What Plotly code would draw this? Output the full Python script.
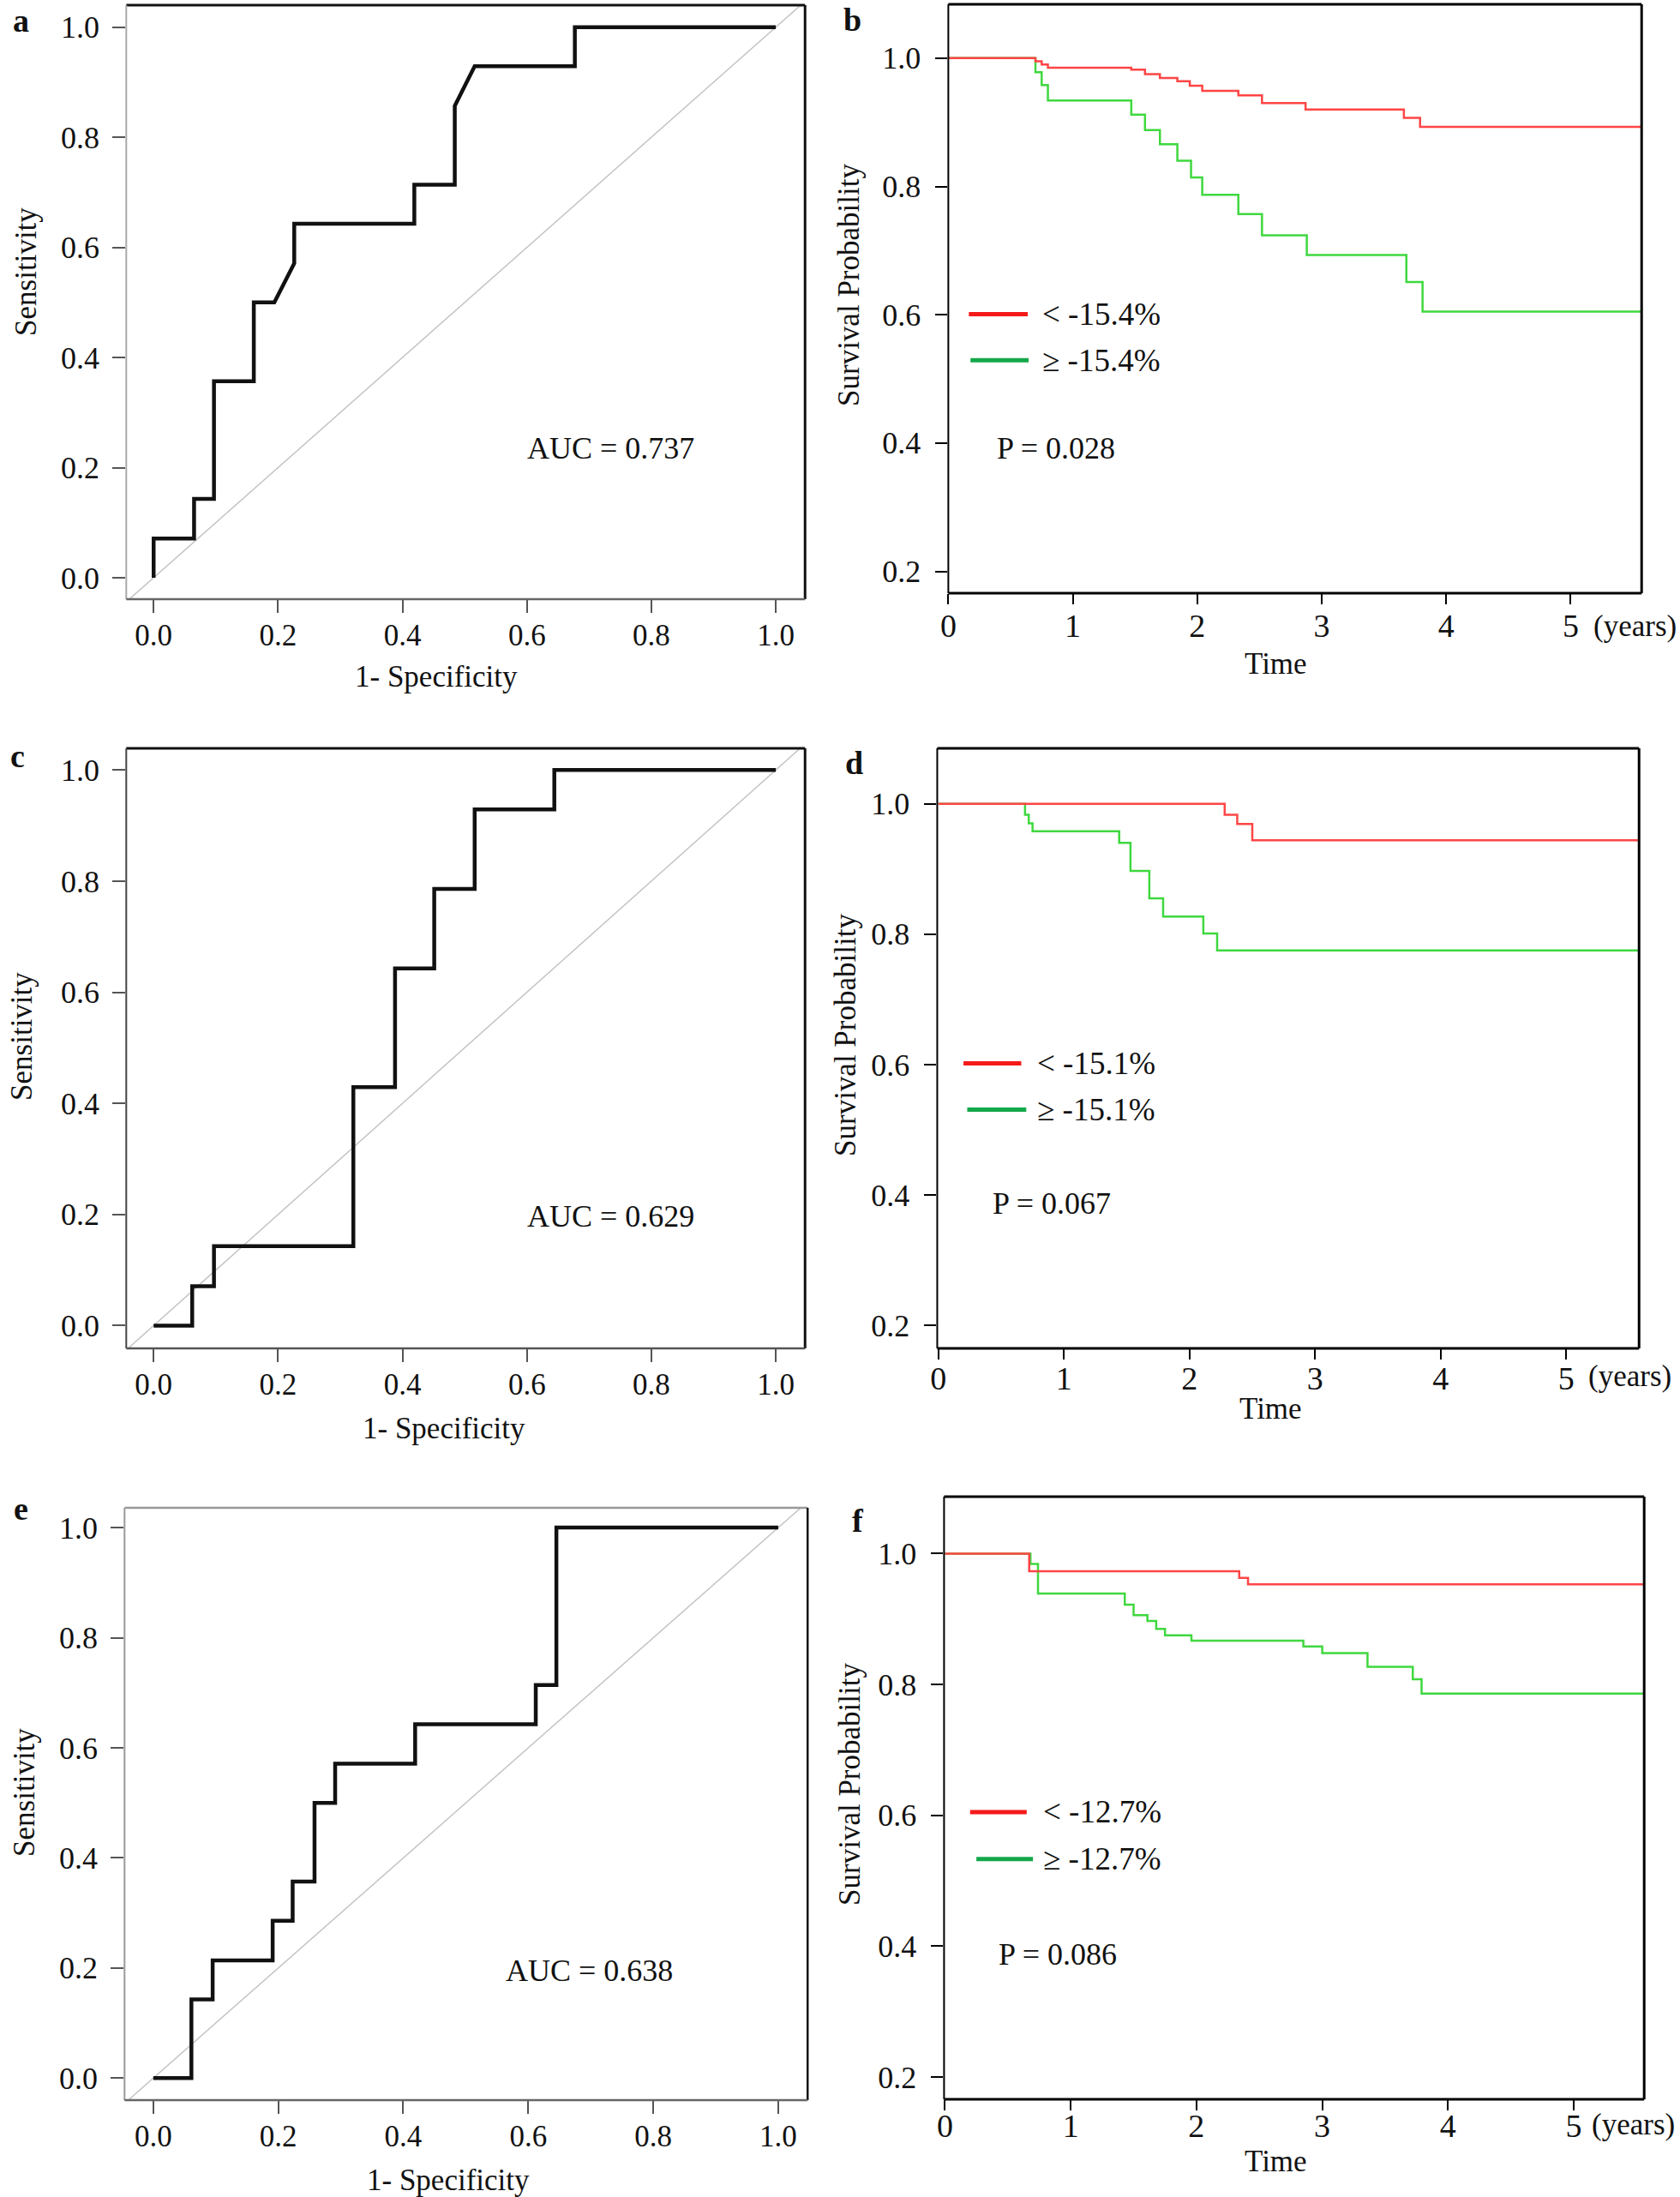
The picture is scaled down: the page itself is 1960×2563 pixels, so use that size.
import plotly.graph_objects as go

W, H = 1960, 2563
FONT = "Liberation Serif, Times New Roman, serif"

# ---------------- ROC data (1 - specificity, sensitivity) ----------------
roc_a_fpr = [0, 0, 0.065, 0.065, 0.097, 0.097, 0.161, 0.161, 0.194, 0.226, 0.226,
             0.419, 0.419, 0.484, 0.484, 0.516, 0.677, 0.677, 1.0]
roc_a_tpr = [0, 0.071, 0.071, 0.143, 0.143, 0.357, 0.357, 0.5, 0.5, 0.571, 0.643,
             0.643, 0.714, 0.714, 0.857, 0.929, 0.929, 1.0, 1.0]
roc_c_fpr = [0, 0.062, 0.062, 0.097, 0.097, 0.321, 0.321, 0.388, 0.388, 0.451, 0.451,
             0.516, 0.516, 0.644, 0.644, 1.0]
roc_c_tpr = [0, 0, 0.071, 0.071, 0.143, 0.143, 0.429, 0.429, 0.643, 0.643, 0.786,
             0.786, 0.929, 0.929, 1.0, 1.0]
roc_e_fpr = [0, 0.061, 0.061, 0.095, 0.095, 0.191, 0.191, 0.223, 0.223, 0.258, 0.258,
             0.291, 0.291, 0.419, 0.419, 0.612, 0.612, 0.645, 0.645, 1.0]
roc_e_tpr = [0, 0, 0.143, 0.143, 0.214, 0.214, 0.286, 0.286, 0.357, 0.357, 0.5,
             0.5, 0.571, 0.571, 0.643, 0.643, 0.714, 0.714, 1.0, 1.0]
auc_labels = ["AUC = 0.737", "AUC = 0.629", "AUC = 0.638"]

# ---------------- Kaplan-Meier data (time in years, survival) ----------------
b_red_t = [0, 0.70, 0.75, 0.80, 1.47, 1.58, 1.70, 1.84, 1.94, 2.04, 2.33, 2.52, 2.87, 3.66, 3.79, 5.57]
b_red_s = [1.0, 0.995, 0.990, 0.985, 0.982, 0.975, 0.969, 0.964, 0.957, 0.949, 0.942, 0.930, 0.920, 0.907, 0.893, 0.893]
b_grn_t = [0, 0.70, 0.75, 0.80, 1.47, 1.58, 1.70, 1.84, 1.95, 2.04, 2.33, 2.52, 2.88, 3.68, 3.81, 5.57]
b_grn_s = [1.0, 0.978, 0.958, 0.934, 0.912, 0.888, 0.866, 0.840, 0.814, 0.787, 0.757, 0.724, 0.693, 0.651, 0.605, 0.605]

d_red_t = [0, 2.28, 2.38, 2.50, 5.58]
d_red_s = [1.0, 0.983, 0.969, 0.944, 0.944]
d_grn_t = [0, 0.69, 0.72, 0.75, 1.44, 1.53, 1.68, 1.79, 2.11, 2.22, 5.58]
d_grn_s = [1.0, 0.983, 0.970, 0.958, 0.940, 0.897, 0.855, 0.827, 0.801, 0.775, 0.775]

f_red_t = [0, 0.67, 2.34, 2.41, 5.56]
f_red_s = [1.0, 0.973, 0.963, 0.953, 0.953]
f_grn_t = [0, 0.68, 0.74, 1.43, 1.50, 1.61, 1.68, 1.75, 1.96, 2.85, 3.00, 3.36, 3.72, 3.79, 5.56]
f_grn_s = [1.0, 0.984, 0.939, 0.922, 0.906, 0.897, 0.885, 0.875, 0.867, 0.858, 0.848, 0.827, 0.808, 0.786, 0.786]

cutoffs = ["15.4", "15.1", "12.7"]
p_values = ["P = 0.028", "P = 0.067", "P = 0.086"]

roc_ticks = [0.0, 0.2, 0.4, 0.6, 0.8, 1.0]
km_xticks = [0, 1, 2, 3, 4, 5]
km_yticks = [0.2, 0.4, 0.6, 0.8, 1.0]

# ---------------- layout geometry (pixels) ----------------
panels = {
    "a": dict(n=1, px=(138, 934), py=(6, 699), xr=[-0.044, 1.047], yr=[-0.039, 1.040], kind="roc", xso=-4),
    "b": dict(n=2, px=(1102, 1915), py=(5, 692), xr=[0, 5.57], yr=[0.166, 1.084], kind="km", xso=-8),
    "c": dict(n=3, px=(138, 934), py=(873, 1573), xr=[-0.044, 1.047], yr=[-0.041, 1.039], kind="roc", xso=-4),
    "d": dict(n=4, px=(1089, 1912), py=(873, 1573), xr=[-0.009, 5.58], yr=[0.165, 1.085], kind="km", xso=-11),
    "e": dict(n=5, px=(136, 937), py=(1759, 2450), xr=[-0.046, 1.047], yr=[-0.040, 1.036], kind="roc", xso=-4),
    "f": dict(n=6, px=(1097, 1918), py=(1746, 2449), xr=[-0.007, 5.56], yr=[0.166, 1.087], kind="km", xso=-15),
}

frame_styles = {
    "a": dict(top=("#111", 3), right=("#111", 3), left=("#aaaaaa", 2), bottom=("#666666", 2.5)),
    "c": dict(top=("#111", 3), right=("#111", 3), left=("#444444", 2), bottom=("#555555", 2.5)),
    "e": dict(top=("#999999", 2.5), right=("#111", 2.5), left=("#999999", 2), bottom=("#666666", 2.5)),
    "b": dict(top=("#000", 3), right=("#000", 3), left=("#000", 2), bottom=("#000", 3)),
    "d": dict(top=("#000", 3), right=("#000", 3), left=("#000", 2), bottom=("#000", 3)),
    "f": dict(top=("#000", 3), right=("#000", 3), left=("#000", 2), bottom=("#000", 3)),
}

fig = go.Figure()
shapes = []
annotations = []


def ax_ids(n):
    return ("x" if n == 1 else f"x{n}"), ("y" if n == 1 else f"y{n}")


def px2paper_x(v):
    return v / W


def px2paper_y(v):
    return 1 - v / H


layout_axes = {}
for key, p in panels.items():
    n = p["n"]
    xa, ya = ax_ids(n)
    xname = "xaxis" if n == 1 else f"xaxis{n}"
    yname = "yaxis" if n == 1 else f"yaxis{n}"
    roc = p["kind"] == "roc"
    tcol = "#555555" if roc else "#000000"
    common = dict(showgrid=False, zeroline=False, showline=False, ticks="outside",
                  tickwidth=2, tickcolor=tcol)
    layout_axes[xname] = dict(
        domain=[px2paper_x(p["px"][0]), px2paper_x(p["px"][1])],
        anchor=ya, range=p["xr"],
        tickvals=roc_ticks if roc else km_xticks,
        ticktext=[f"{v:.1f}" for v in roc_ticks] if roc else [str(v) for v in km_xticks],
        tickfont=dict(family=FONT, size=35 if roc else 38, color="#111"),
        ticklen=15 if roc else 12, ticklabelstandoff=p["xso"], **common)
    layout_axes[yname] = dict(
        domain=[px2paper_y(p["py"][1]), px2paper_y(p["py"][0])],
        anchor=xa, range=p["yr"],
        tickvals=roc_ticks if roc else km_yticks,
        ticktext=[f"{v:.1f}" for v in (roc_ticks if roc else km_yticks)],
        tickfont=dict(family=FONT, size=36, color="#111"),
        ticklen=15 if roc else 14, ticklabelstandoff=8 if roc else 10, **common)

    # frame
    fs = frame_styles[key]
    xd, yd = f"{xa} domain", f"{ya} domain"
    for side, (c, w) in fs.items():
        if side == "top":
            coords = (0, 1, 1, 1)
        elif side == "bottom":
            coords = (0, 0, 1, 0)
        elif side == "left":
            coords = (0, 0, 0, 1)
        else:
            coords = (1, 0, 1, 1)
        shapes.append(dict(type="line", xref=xd, yref=yd, x0=coords[0], y0=coords[1],
                           x1=coords[2], y1=coords[3], line=dict(color=c, width=w)))

# ---------------- ROC panels ----------------
roc_sets = [("a", roc_a_fpr, roc_a_tpr, (0.734, 0.235)),
            ("c", roc_c_fpr, roc_c_tpr, (0.735, 0.197)),
            ("e", roc_e_fpr, roc_e_tpr, (0.697, 0.195))]
for i, (key, fpr, tpr, pos) in enumerate(roc_sets):
    p = panels[key]
    xa, ya = ax_ids(p["n"])
    fig.add_trace(go.Scatter(x=p["xr"], y=p["xr"], mode="lines", xaxis=xa, yaxis=ya,
                             line=dict(color="#c4c4c4", width=1.5), showlegend=False,
                             hoverinfo="skip"))
    fig.add_trace(go.Scatter(x=fpr, y=tpr, mode="lines", xaxis=xa, yaxis=ya,
                             line=dict(color="#111111", width=4.5), showlegend=False))
    annotations.append(dict(text=auc_labels[i], x=pos[0], y=pos[1], xref=xa, yref=ya,
                            showarrow=False, xanchor="center", yanchor="middle",
                            font=dict(family=FONT, size=36, color="#111")))

# ---------------- KM panels ----------------
RED = "#ff4545"
GRN = "#3fd83f"
km_sets = [("b", b_red_t, b_red_s, b_grn_t, b_grn_s, 0.868, 0.392,
            (0.165, 0.638, 0.601), (0.178, 0.645, 0.529), 0.74),
           ("d", d_red_t, d_red_s, d_grn_t, d_grn_s, 0.90, 0.387,
            (0.20, 0.66, 0.602), (0.23, 0.70, 0.531), 0.775),
           ("f", f_red_t, f_red_s, f_grn_t, f_grn_s, 0.90, 0.388,
            (0.20, 0.65, 0.605), (0.25, 0.70, 0.533), 0.77)]
for i, (key, rt, rs, gt, gs, px_, py_, leg_r, leg_g, tx) in enumerate(km_sets):
    p = panels[key]
    xa, ya = ax_ids(p["n"])
    fig.add_trace(go.Scatter(x=gt, y=gs, mode="lines", line_shape="hv", xaxis=xa, yaxis=ya,
                             line=dict(color=GRN, width=2.5), showlegend=False))
    fig.add_trace(go.Scatter(x=rt, y=rs, mode="lines", line_shape="hv", xaxis=xa, yaxis=ya,
                             line=dict(color=RED, width=2.5), showlegend=False))
    # legend keys
    shapes.append(dict(type="line", xref=xa, yref=ya, x0=leg_r[0], x1=leg_r[1], y0=leg_r[2],
                       y1=leg_r[2], line=dict(color="#f51a1a", width=5)))
    shapes.append(dict(type="line", xref=xa, yref=ya, x0=leg_g[0], x1=leg_g[1], y0=leg_g[2],
                       y1=leg_g[2], line=dict(color="#13a84a", width=5)))
    annotations.append(dict(text=f"< -{cutoffs[i]}%", x=tx, y=leg_r[2], xref=xa, yref=ya,
                            showarrow=False, xanchor="left", yanchor="middle",
                            font=dict(family=FONT, size=37, color="#111")))
    annotations.append(dict(text=f"\u2265 -{cutoffs[i]}%", x=tx, y=leg_g[2], xref=xa, yref=ya,
                            showarrow=False, xanchor="left", yanchor="middle",
                            font=dict(family=FONT, size=37, color="#111")))
    annotations.append(dict(text=p_values[i], x=px_, y=py_, xref=xa, yref=ya,
                            showarrow=False, xanchor="center", yanchor="middle",
                            font=dict(family=FONT, size=36, color="#111")))

# ---------------- titles / labels (pixel positions) ----------------
def add_text(text, x, y, size=35, angle=0, bold=False, xanchor="center", yanchor="middle"):
    annotations.append(dict(text=f"<b>{text}</b>" if bold else text,
                            x=px2paper_x(x), y=px2paper_y(y), xref="paper", yref="paper",
                            showarrow=False, xanchor=xanchor, yanchor=yanchor,
                            textangle=angle,
                            font=dict(family=FONT, size=size, color="#111")))


# y titles
add_text("Sensitivity", 21, 317, angle=-90)
add_text("Sensitivity", 16, 1209, angle=-90)
add_text("Sensitivity", 18, 2091, angle=-90)
add_text("Survival Probability", 985, 332, angle=-90)
add_text("Survival Probability", 981, 1207, angle=-90)
add_text("Survival Probability", 986, 2081, angle=-90)
# x titles
add_text("1- Specificity", 502, 790)
add_text("1- Specificity", 511, 1666)
add_text("1- Specificity", 516, 2543)
add_text("Time", 1486, 774)
add_text("Time", 1480, 1644)
add_text("Time", 1486, 2521)
# (years)
add_text("(years)", 1856, 731, size=35, xanchor="left")
add_text("(years)", 1850, 1605, size=35, xanchor="left")
add_text("(years)", 1854, 2478, size=35, xanchor="left")
# panel letters
add_text("a", 15, 1, size=38, bold=True, yanchor="top")
for lab, x, y in [("b", 990, 23), ("c", 11, 882),
                  ("d", 992, 890), ("e", 15, 1760), ("f", 996, 1774)]:
    add_text(lab, x, y, size=38, bold=True)

fig.update_layout(width=W, height=H, margin=dict(l=0, r=0, t=0, b=0),
                  paper_bgcolor="white", plot_bgcolor="white",
                  showlegend=False, shapes=shapes, annotations=annotations,
                  **layout_axes)

fig.write_html("out.html", config={"displayModeBar": False},
               post_script="document.body.style.margin='0';")
